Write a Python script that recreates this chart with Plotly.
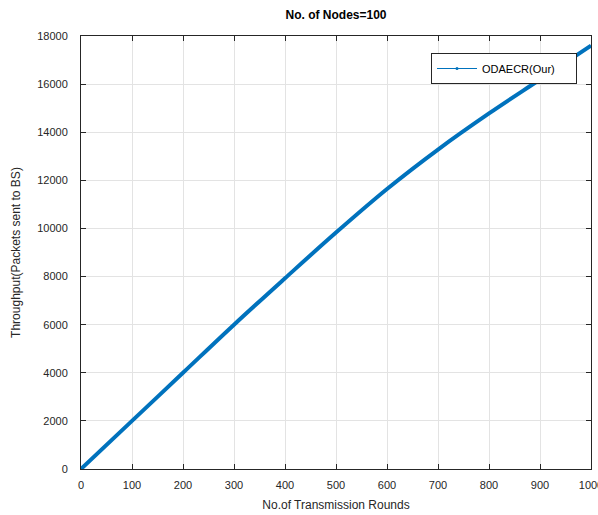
import plotly.graph_objects as go

rounds = [0, 100, 200, 300, 400, 500, 600, 700, 800, 900, 1000]
throughput = [0, 2000, 4000, 6000, 7930, 9830, 11640, 13280, 14780, 16190, 17600]

series_name = "ODAECR(Our)"
x_ticks = [0, 100, 200, 300, 400, 500, 600, 700, 800, 900, 1000]
y_ticks = [0, 2000, 4000, 6000, 8000, 10000, 12000, 14000, 16000, 18000]

blue = "#0072BD"
fig = go.Figure()
fig.add_trace(go.Scatter(x=rounds, y=throughput, mode="lines",
                         line=dict(color=blue, width=4, shape="spline", smoothing=1.0),
                         showlegend=False))
fig.add_trace(go.Scatter(x=[None], y=[None], mode="lines+markers",
                         name=series_name + "\u00a0" * 5,
                         line=dict(color=blue, width=1), marker=dict(size=3, color=blue)))

tfont = dict(family="Liberation Sans, Arial", size=11, color="#262626")
axis_common = dict(showline=True, linecolor="#262626", linewidth=1, mirror="ticks",
                   ticks="inside", ticklen=5, tickcolor="#262626",
                   showgrid=True, gridcolor="#E3E3E3", gridwidth=1, zeroline=False,
                   automargin=False, ticklabeloverflow="allow",
                   tickfont=tfont)

fig.update_layout(
    width=598, height=515,
    margin=dict(l=81, r=7, t=36, b=46),
    paper_bgcolor="white", plot_bgcolor="white",
    title=dict(text="<b>No. of Nodes=100</b>", x=0.5, xanchor="center", xref="paper",
               y=1 - 15 / 515, yanchor="middle",
               font=dict(family="Liberation Sans, Arial", size=12, color="black")),
    xaxis=dict(range=[0, 1000], tickvals=x_ticks, ticktext=[str(v) for v in x_ticks],
               ticklabelstandoff=6,
               title=dict(text="No.of Transmission Rounds", standoff=10,
                          font=dict(family="Liberation Sans, Arial", size=12, color="#262626")),
               **axis_common),
    yaxis=dict(range=[0, 18000], tickvals=y_ticks, ticktext=[str(v) for v in y_ticks],
               ticklabelstandoff=10,
               title=dict(text="Throughput(Packets sent to BS)", standoff=14,
                          font=dict(family="Liberation Sans, Arial", size=12, color="#262626")),
               **axis_common),
    legend=dict(x=(431 - 81) / 510, y=(469 - 53) / 433, xanchor="left", yanchor="top",
                bgcolor="white", bordercolor="#262626", borderwidth=1,
                font=dict(family="Liberation Sans, Arial", size=11, color="black"),
                itemwidth=40),
    showlegend=True,
)

fig.write_html("out.html", config={"displayModeBar": False},
               post_script="document.body.style.margin='0';document.body.style.overflow='hidden';")
